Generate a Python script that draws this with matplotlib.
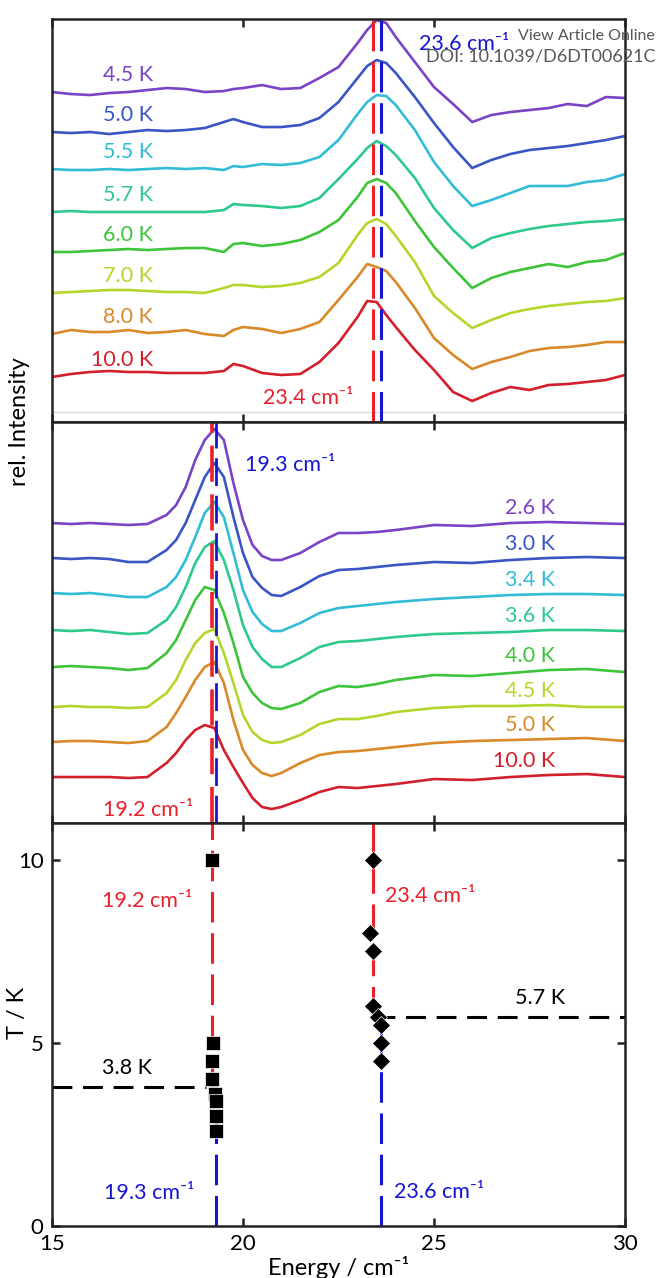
import numpy as np
import matplotlib.pyplot as plt

plt.rcParams['font.family'] = ['Lato', 'DejaVu Sans']

# ---------- data ----------
# upper panel: high energy mode, stacked spectra (offset already included)
energy_hi = [15.0, 15.5, 16.0, 16.5, 17.0, 17.5, 18.0, 18.5, 19.0, 19.5, 19.75,
             20.0, 20.5, 21.0, 21.5, 22.0, 22.5, 23.0, 23.25, 23.5, 23.75, 24.0,
             24.5, 25.0, 25.5, 26.0, 26.5, 27.0, 27.5, 28.0, 28.5, 29.0, 29.5, 30.0]
temps_hi = ['4.5 K', '5.0 K', '5.5 K', '5.7 K', '6.0 K', '7.0 K', '8.0 K', '10.0 K']
spec_4p5 = [328, 326, 325, 327, 328, 330, 332, 331, 328, 329, 331, 332, 335, 331, 332, 342, 353,
            377, 390, 400, 397, 383, 358, 333, 316, 298, 305, 308, 310, 312, 316, 314, 323, 322]
spec_5p0 = [288, 287, 288, 286, 288, 290, 289, 290, 292, 298, 301, 298, 293, 293, 295, 302, 318,
            342, 354, 360, 357, 347, 323, 297, 273, 252, 260, 266, 270, 272, 274, 277, 280, 284]
spec_5p5 = [251, 250, 250, 251, 250, 251, 252, 251, 252, 250, 254, 253, 256, 255, 257, 263, 280,
            306, 318, 325, 324, 315, 290, 258, 234, 214, 220, 227, 234, 234, 234, 238, 240, 246]
spec_5p7 = [208, 209, 208, 208, 208, 208, 208, 208, 208, 210, 216, 215, 214, 212, 214, 222, 241,
            261, 272, 279, 274, 265, 242, 212, 190, 172, 182, 187, 191, 194, 196, 198, 199, 201]
spec_6p0 = [168, 168, 169, 170, 171, 170, 171, 172, 172, 168, 176, 177, 174, 176, 180, 188, 200,
            223, 237, 241, 237, 227, 199, 173, 152, 132, 142, 148, 152, 156, 153, 158, 160, 167]
spec_7p0 = [127, 128, 129, 130, 130, 129, 128, 128, 127, 132, 135, 135, 133, 134, 137, 143, 157,
            185, 197, 201, 196, 184, 158, 124, 107, 92, 100, 107, 111, 114, 116, 118, 119, 122]
spec_8p0 = [86, 90, 88, 88, 90, 87, 88, 90, 86, 84, 90, 93, 91, 87, 91, 98, 120,
            143, 156, 153, 149, 138, 112, 82, 65, 51, 58, 63, 69, 72, 73, 75, 78, 78]
spec_10p0 = [43, 46, 48, 49, 48, 48, 47, 47, 47, 49, 56, 54, 47, 45, 46, 58, 77,
             103, 119, 118, 105, 93, 70, 50, 28, 19, 27, 33, 30, 35, 36, 38, 40, 45]
spectra_hi = [spec_4p5, spec_5p0, spec_5p5, spec_5p7, spec_6p0, spec_7p0, spec_8p0, spec_10p0]

# middle panel: low energy mode
energy_lo = [15.0, 15.5, 16.0, 16.5, 17.0, 17.5, 18.0, 18.25, 18.5, 18.75, 19.0, 19.25, 19.5,
             19.75, 20.0, 20.25, 20.5, 20.75, 21.0, 21.5, 22.0, 22.5, 23.0, 23.5, 24.0,
             25.0, 26.0, 27.0, 28.0, 29.0, 30.0]
temps_lo = ['2.6 K', '3.0 K', '3.4 K', '3.6 K', '4.0 K', '4.5 K', '5.0 K', '10.0 K']
lo_2p6 = [300, 299, 300, 299, 298, 299, 308, 318, 336, 363, 383, 394, 383, 340, 303, 278,
          267, 263, 263, 270, 281, 290, 290, 291, 293, 298, 297, 300, 301, 300, 299]
lo_3p0 = [265, 264, 265, 264, 261, 261, 273, 283, 300, 323, 346, 360, 346, 306, 270, 246,
          235, 228, 227, 236, 247, 253, 254, 256, 258, 261, 260, 263, 265, 266, 265]
lo_3p4 = [230, 229, 230, 228, 226, 226, 236, 246, 263, 286, 310, 321, 306, 270, 233, 211,
          199, 192, 192, 200, 210, 215, 217, 219, 221, 224, 226, 228, 229, 229, 228]
lo_3p6 = [193, 192, 193, 191, 189, 190, 203, 216, 236, 260, 276, 282, 263, 233, 198, 176,
          164, 156, 156, 165, 176, 181, 182, 184, 186, 189, 190, 191, 193, 193, 192]
lo_4p0 = [156, 157, 156, 155, 153, 155, 170, 183, 203, 223, 236, 233, 210, 180, 146, 130,
          120, 115, 114, 120, 131, 137, 136, 139, 143, 148, 147, 150, 153, 154, 151]
lo_4p5 = [116, 117, 116, 116, 115, 116, 130, 143, 163, 180, 190, 194, 170, 140, 108, 91,
          83, 80, 81, 88, 99, 104, 104, 107, 111, 115, 117, 117, 118, 116, 116]
lo_5p0 = [81, 82, 82, 81, 80, 82, 96, 110, 126, 143, 156, 161, 140, 103, 73, 58,
          50, 47, 50, 60, 68, 71, 72, 74, 76, 80, 82, 83, 84, 85, 82]
lo_10p0 = [46, 46, 46, 46, 45, 46, 60, 70, 83, 93, 98, 95, 73, 56, 40, 25,
           16, 14, 16, 23, 31, 36, 35, 37, 39, 44, 43, 46, 48, 49, 46]
spectra_lo = [lo_2p6, lo_3p0, lo_3p4, lo_3p6, lo_4p0, lo_4p5, lo_5p0, lo_10p0]

# bottom panel: peak positions vs temperature
T_mode1 = [10.0, 5.0, 4.5, 4.0, 3.6, 3.4, 3.0, 2.6]
E_mode1 = [19.2, 19.22, 19.2, 19.19, 19.28, 19.3, 19.3, 19.3]
T_mode2 = [10.0, 8.0, 7.5, 6.0, 5.7, 5.5, 5.0, 4.5]
E_mode2 = [23.41, 23.32, 23.41, 23.41, 23.54, 23.62, 23.61, 23.61]

colors_curves = ['#7b43c6', '#3a55c4', '#33bcd6', '#2fc98d', '#3ec43a',
                 '#b3d62c', '#d8892a', '#d2202b']
RED = '#e8212b'
BLUE = '#1616d2'

FS_LAB = 15.5   # temperature / energy annotations
FS_AX = 17      # axis labels
FS_TICK = 16

# ---------- figure ----------
fig = plt.figure(figsize=(6.57, 12.78), dpi=100)
ax_top = fig.add_axes([0.0791, 0.6698, 0.8722, 0.3153])
ax_mid = fig.add_axes([0.0791, 0.3560, 0.8722, 0.3138])
ax_bot = fig.add_axes([0.0791, 0.0407, 0.8722, 0.3153])

vdash = (0, (10, 3.5))
hdash = (0, (6.5, 3.5))

for ax in (ax_top, ax_mid, ax_bot):
    ax.set_xlim(15, 30)
    ax.set_xticks([15, 20, 25, 30])
    for sp in ax.spines.values():
        sp.set_linewidth(1.8)
        sp.set_color('#222222')
    ax.tick_params(direction='in', top=True, bottom=True, length=6, width=1.8,
                   color='#222222')

# upper panel
ax_top.set_ylim(-2, 401)
ax_top.axhline(8, color='#dddddd', lw=1)
for spec, lab, c in zip(spectra_hi, temps_hi, colors_curves):
    ax_top.plot(energy_hi, spec, color=c, lw=1.9)
    ax_top.text(17.64, spec[0] + 17, lab, color=c, fontsize=FS_LAB, ha='right', va='center')
ax_top.axvline(23.4, color=RED, lw=2.2, ls=vdash)
ax_top.axvline(23.6, color=BLUE, lw=2.2, ls=vdash)
ax_top.text(24.6, 376, '23.6 cm⁻¹', color=BLUE, fontsize=FS_LAB, va='center')
ax_top.text(20.52, 22, '23.4 cm⁻¹', color=RED, fontsize=FS_LAB, va='center')
ax_top.set_yticks([])
ax_top.tick_params(labelbottom=False)

# middle panel
ax_mid.set_ylim(0, 401)
for spec, lab, c in zip(spectra_lo, temps_lo, colors_curves):
    ax_mid.plot(energy_lo, spec, color=c, lw=1.9)
    ax_mid.text(28.17, spec[-3] + 14, lab, color=c, fontsize=FS_LAB, ha='right', va='center')
ax_mid.axvline(19.2, color=RED, lw=2.6, ls=vdash)
ax_mid.axvline(19.3, color=BLUE, lw=2.0, ls=vdash)
ax_mid.text(20.05, 358, '19.3 cm⁻¹', color=BLUE, fontsize=FS_LAB, va='center')
ax_mid.text(16.33, 13, '19.2 cm⁻¹', color=RED, fontsize=FS_LAB, va='center')
ax_mid.set_yticks([])
ax_mid.tick_params(labelbottom=False)

# bottom panel
ax_bot.set_ylim(0, 11)
ax_bot.vlines(19.2, 3.8, 11, color=RED, lw=2.2, ls=vdash)
ax_bot.vlines(19.3, 0, 3.8, color=BLUE, lw=2.2, ls=vdash)
ax_bot.vlines(23.4, 5.7, 11, color=RED, lw=2.2, ls=vdash)
ax_bot.vlines(23.6, 0, 5.7, color=BLUE, lw=2.2, ls=vdash)
ax_bot.hlines(3.8, 15, 19.03, color='black', lw=2.2, ls=hdash)
ax_bot.hlines(5.7, 23.45, 30, color='black', lw=2.2, ls=hdash)
ax_bot.plot(E_mode1, T_mode1, 's', color='black', ms=10, mec='white', mew=0.5, zorder=5)
ax_bot.plot(E_mode2, T_mode2, 'D', color='black', ms=9.5, mec='white', mew=0.5, zorder=5)
ax_bot.text(16.3, 8.86, '19.2 cm⁻¹', color=RED, fontsize=FS_LAB, va='center')
ax_bot.text(23.73, 9.0, '23.4 cm⁻¹', color=RED, fontsize=FS_LAB, va='center')
ax_bot.text(16.35, 0.89, '19.3 cm⁻¹', color=BLUE, fontsize=FS_LAB, va='center')
ax_bot.text(23.95, 0.94, '23.6 cm⁻¹', color=BLUE, fontsize=FS_LAB, va='center')
ax_bot.text(16.3, 4.31, '3.8 K', color='black', fontsize=FS_LAB, va='center')
ax_bot.text(27.13, 6.22, '5.7 K', color='black', fontsize=FS_LAB, va='center')
ax_bot.set_yticks([0, 5, 10])
ax_bot.tick_params(right=True, labelsize=FS_TICK, pad=6)
ax_bot.set_xlabel('Energy / cm⁻¹', fontsize=FS_AX, labelpad=1)
ax_bot.set_ylabel('T / K', fontsize=FS_AX)
ax_bot.yaxis.set_label_coords(-0.042, 0.53)

fig.text(20 / 657, 1 - 422 / 1278, 'rel. Intensity', rotation=90, fontsize=FS_AX,
         ha='center', va='center')

# publisher watermark
fig.text(655 / 657, 1 - 36 / 1278, 'View Article Online', color='#555555',
         fontsize=11.5, ha='right', va='center')
fig.text(655 / 657, 1 - 57 / 1278, 'DOI: 10.1039/D6DT00621C', color='#555555',
         fontsize=13, ha='right', va='center')

fig.savefig('out.png', dpi=100)
